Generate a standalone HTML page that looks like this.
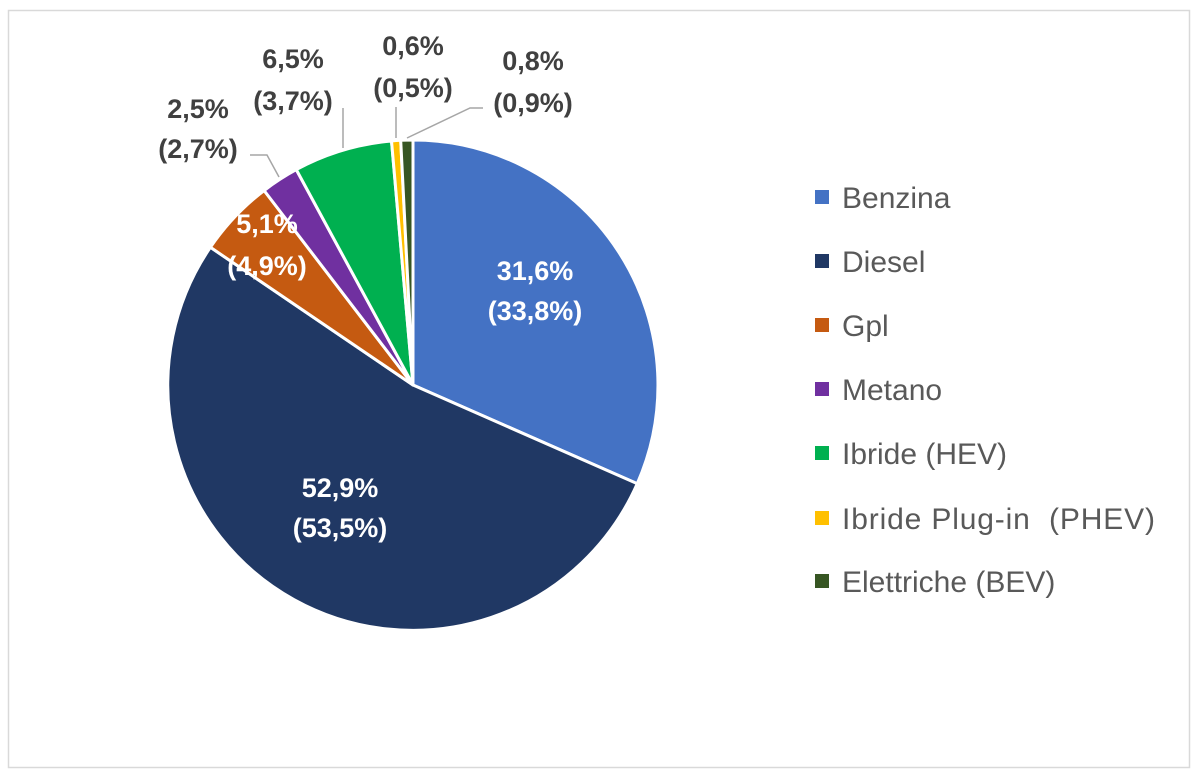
<!DOCTYPE html>
<html><head><meta charset="utf-8"><style>
html,body{margin:0;padding:0;background:#fff;}
svg{display:block;font-family:"Liberation Sans",sans-serif;}
</style></head><body>
<svg width="1200" height="780" viewBox="0 0 1200 780">
<rect x="8.5" y="10.5" width="1181" height="757" fill="#fff" stroke="#d9d9d9" stroke-width="1.5"/>
<g stroke="#fff" stroke-width="3" stroke-linejoin="round">
<path d="M413,385 L413,140 A245,245 0 0 1 637.2,483.7 Z" fill="#4472c4"/>
<path d="M413,385 L637.2,483.7 A245,245 0 1 1 210.4,247.3 Z" fill="#203864"/>
<path d="M413,385 L210.4,247.3 A245,245 0 0 1 264.1,190.5 Z" fill="#c55a11"/>
<path d="M413,385 L264.1,190.5 A245,245 0 0 1 296.3,169.6 Z" fill="#7030a0"/>
<path d="M413,385 L296.3,169.6 A245,245 0 0 1 391.5,141 Z" fill="#00b050"/>
<path d="M413,385 L391.5,141 A245,245 0 0 1 400.7,140.3 Z" fill="#ffc000"/>
<path d="M413,385 L400.7,140.3 A245,245 0 0 1 413,140 Z" fill="#375623"/>
</g>
<g stroke="#a6a6a6" stroke-width="1.5" fill="none">
<polyline points="250,155 267,155 279,177"/>
<line x1="343" y1="108" x2="343" y2="148"/>
<line x1="396" y1="107" x2="396" y2="138"/>
<polyline points="483,108 470,108 407,138"/>
</g>
<g font-weight="bold" font-size="27" text-anchor="middle">
<g fill="#fff">
<text x="535" y="280">31,6%</text><text x="535" y="320">(33,8%)</text>
<text x="340" y="497">52,9%</text><text x="340" y="537">(53,5%)</text>
<text x="267" y="233">5,1%</text><text x="267" y="275">(4,9%)</text>
</g>
<g fill="#404040">
<text x="198" y="118">2,5%</text><text x="198" y="158">(2,7%)</text>
<text x="293" y="68">6,5%</text><text x="293" y="110">(3,7%)</text>
<text x="413" y="55">0,6%</text><text x="413" y="97">(0,5%)</text>
<text x="533" y="70">0,8%</text><text x="533" y="112">(0,9%)</text>
</g>
</g>
<g font-size="30" fill="#595959">
<rect x="815" y="190" width="14" height="14" fill="#4472c4"/><text x="842" y="208">Benzina</text>
<rect x="815" y="254" width="14" height="14" fill="#203864"/><text x="842" y="272">Diesel</text>
<rect x="815" y="318" width="14" height="14" fill="#c55a11"/><text x="842" y="336">Gpl</text>
<rect x="815" y="382" width="14" height="14" fill="#7030a0"/><text x="842" y="400">Metano</text>
<rect x="815" y="446" width="14" height="14" fill="#00b050"/><text x="842" y="464">Ibride (HEV)</text>
<rect x="815" y="511" width="14" height="14" fill="#ffc000"/><text x="842" y="529" xml:space="preserve" textLength="313">Ibride Plug-in  (PHEV)</text>
<rect x="815" y="574" width="14" height="14" fill="#375623"/><text x="842" y="592">Elettriche (BEV)</text>
</g>
</svg>
</body></html>
